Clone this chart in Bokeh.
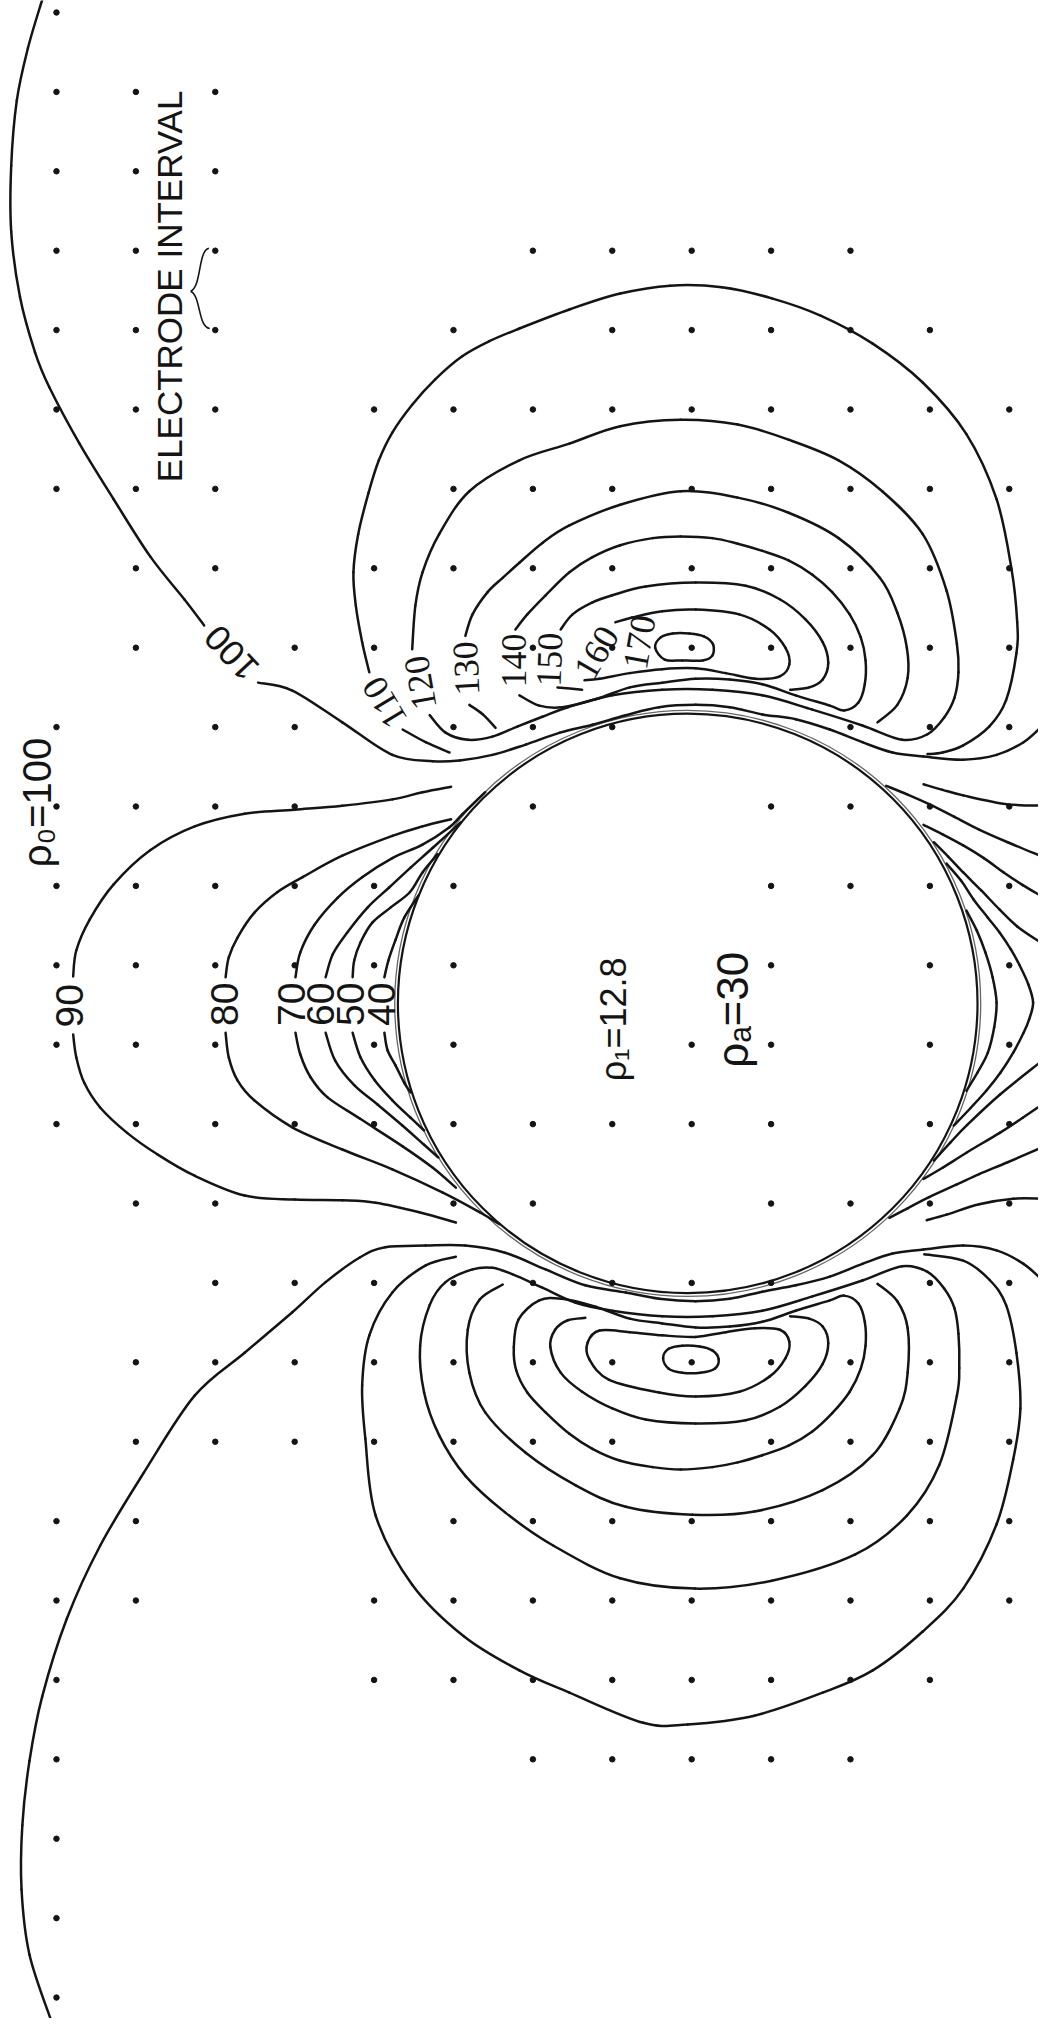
from bokeh.plotting import figure
from bokeh.models import Range1d, ColumnDataSource
from bokeh.core.properties import value
from bokeh.embed import file_html
from bokeh.resources import INLINE

# ---------------- data (units: electrode intervals) ----------------
# measurement points: for each row, the columns that carry a point
DOT_COLUMNS_BY_ROW = [
    [0], [0, 1, 2], [0, 1, 2],
    [0, 1, 2, 6, 7, 8, 9, 10],
    [0, 1, 2, 5, 7, 8, 9, 10, 11],
    [0, 1, 2, 4, 5, 6, 7, 8, 9, 10, 11, 12],
    [0, 1, 2, 5, 6, 7, 8, 9, 10, 11, 12],
    [1, 2, 4, 5, 6, 7, 8, 9, 10, 11, 12],
    [1, 3, 4, 6, 7, 8, 9, 10, 11, 12],
    [0, 2, 3, 5, 6, 7, 10, 11, 12],
    [0, 1, 2, 3, 6, 9, 10, 11, 12],
    [0, 1, 2, 3, 4, 5, 9, 10, 11, 12],
    [0, 1, 2, 3, 4, 5, 9, 11, 12],
    [0, 1, 2, 4, 5, 8, 9, 11, 12],
    [0, 1, 2, 3, 4, 5, 6, 7, 8, 9, 11, 12],
    [1, 2, 5, 6, 9, 10, 11, 12],
    [2, 3, 4, 5, 6, 7, 8, 9, 11, 12],
    [1, 2, 3, 4, 5, 6, 7, 8, 9, 10, 11, 12],
    [1, 2, 3, 4, 5, 6, 7, 9, 10, 11, 12],
    [0, 1, 5, 6, 7, 8, 9, 10, 11, 12],
    [0, 1, 4, 5, 6, 7, 8, 9, 10, 11, 12],
    [0, 4, 5, 6, 7, 8, 9, 10, 11],
    [0, 6, 7, 8, 9, 10],
    [0], [0], [0],
]

SPHERE_CENTER = (7.95, 12.48)
SPHERE_RADIUS = 3.65

# contour strokes (x, y)
c100_upper_arc = [(-0.18, -0.16), (-0.36, 0.45), (-0.50, 1.11), (-0.57, 1.93), (-0.57, 2.76), (-0.46, 3.58),
                  (-0.27, 4.28), (-0.09, 4.72), (0.29, 5.43), (0.72, 6.13), (1.18, 6.85), (1.61, 7.39), (1.86, 7.72)]
c100_upper_neck = [(2.54, 8.44), (2.97, 8.54), (3.60, 8.94), (4.23, 9.35), (4.74, 9.43), (5.08, 9.42), (5.49, 9.35),
                   (5.91, 9.22), (6.34, 9.07), (6.75, 8.97), (7.17, 8.85), (7.59, 8.75), (8.05, 8.72), (8.48, 8.75),
                   (8.89, 8.84), (9.31, 8.90), (9.74, 9.03), (10.15, 9.19), (10.53, 9.32), (10.92, 9.37),
                   (11.42, 9.41), (11.84, 9.35), (12.18, 9.19), (12.42, 8.98)]
c110_upper_a = [(4.95, 9.32), (4.65, 9.19), (4.36, 9.03)]
c110_upper_b = [(3.94, 8.31), (3.85, 7.93), (3.77, 7.47), (3.74, 7.05), (3.80, 6.57), (3.93, 6.05), (4.06, 5.64),
                (4.23, 5.29), (4.48, 4.94), (4.77, 4.62), (5.11, 4.33), (5.45, 4.14), (5.83, 3.98), (6.46, 3.74),
                (7.10, 3.54), (7.73, 3.44), (8.38, 3.46), (9.01, 3.60), (9.63, 3.82), (10.28, 4.17), (10.91, 4.66),
                (11.46, 5.31), (11.84, 6.13), (12.03, 7.02), (12.10, 7.68), (12.09, 8.07), (11.96, 8.66),
                (11.75, 8.99), (11.42, 9.23), (11.16, 9.32), (10.97, 9.34)]
c120_upper = [(4.70, 8.85), (4.90, 9.07), (5.18, 9.16), (5.49, 9.12), (5.81, 8.99), (6.12, 8.87), (6.44, 8.75),
              (7.00, 8.60), (7.63, 8.53), (8.26, 8.53), (8.89, 8.60), (9.52, 8.78), (10.15, 8.98), (10.65, 9.16),
              (10.97, 9.09), (11.18, 8.88), (11.31, 8.63), (11.36, 8.31), (11.34, 7.95), (11.21, 7.28),
              (10.91, 6.57), (10.40, 6.03), (9.85, 5.64), (9.22, 5.38), (8.58, 5.19), (7.86, 5.13), (7.10, 5.21),
              (6.46, 5.43), (5.83, 5.64), (5.20, 6.03), (4.82, 6.57), (4.61, 7.05), (4.52, 7.47), (4.48, 8.02)]
c130_upper = [(5.15, 7.85), (5.24, 7.58), (5.43, 7.30), (5.62, 7.12), (5.83, 6.93), (6.12, 6.68), (6.46, 6.46),
              (7.10, 6.20), (7.86, 6.03), (8.58, 6.11), (9.22, 6.30), (9.85, 6.62), (10.37, 7.12), (10.59, 7.56),
              (10.71, 8.00), (10.72, 8.38), (10.59, 8.72), (10.34, 8.94)]
c130_upper_low = [(5.20, 8.72), (5.37, 8.84), (5.53, 9.01)]
c140_upper = [(5.78, 7.77), (5.93, 7.58), (6.16, 7.34), (6.46, 7.05), (6.75, 6.86), (7.10, 6.71), (7.51, 6.62),
              (7.86, 6.60), (8.26, 6.62), (8.58, 6.69), (8.89, 6.78), (9.22, 6.90), (9.52, 7.08), (9.77, 7.30),
              (9.99, 7.58), (10.13, 7.87), (10.19, 8.16), (10.18, 8.46), (10.10, 8.69), (9.92, 8.79), (9.74, 8.73),
              (9.31, 8.60), (8.89, 8.46), (8.48, 8.40), (8.05, 8.39), (7.63, 8.44), (7.22, 8.50), (6.79, 8.65),
              (6.37, 8.75), (6.08, 8.73), (5.83, 8.60)]
c150_upper = [(6.35, 7.77), (6.50, 7.58), (6.75, 7.43), (7.00, 7.34), (7.42, 7.23), (8.05, 7.18), (8.68, 7.22),
              (9.11, 7.39), (9.43, 7.64), (9.65, 7.93), (9.72, 8.19), (9.65, 8.40), (9.48, 8.50), (9.24, 8.53)]
c150_upper_low = [(6.31, 8.50), (6.62, 8.53)]
c160_upper = [(7.04, 7.68), (7.25, 7.62), (7.63, 7.54), (8.05, 7.52), (8.60, 7.58), (8.98, 7.77), (9.18, 8.00),
              (9.23, 8.21), (9.11, 8.36), (8.80, 8.39), (8.43, 8.32), (8.05, 8.26), (7.63, 8.27), (7.22, 8.32),
              (6.84, 8.39), (6.65, 8.41)]
c170_upper = [(7.54, 8.00), (7.61, 7.87), (7.76, 7.82), (7.97, 7.82), (8.16, 7.86), (8.27, 7.96), (8.26, 8.10),
              (8.14, 8.16), (7.88, 8.16), (7.66, 8.15), (7.54, 8.00)]

c90_upper = [(4.97, 9.75), (4.61, 9.82), (4.23, 9.91), (3.60, 9.99), (3.00, 10.04), (2.37, 10.09), (1.74, 10.25),
             (1.18, 10.55), (0.72, 10.98), (0.42, 11.42), (0.25, 11.81), (0.21, 12.14)]
c90_lower = [(0.21, 12.87), (0.25, 13.16), (0.35, 13.48), (0.55, 13.79), (0.89, 14.11), (1.27, 14.38),
             (1.74, 14.65), (2.37, 14.90), (3.00, 14.95), (3.60, 14.96), (4.02, 14.99), (4.57, 15.11), (5.03, 15.24)]
c80_upper = [(4.97, 10.16), (4.61, 10.25), (4.23, 10.37), (3.60, 10.62), (3.10, 10.89), (2.78, 11.08),
             (2.49, 11.34), (2.28, 11.65), (2.17, 11.90), (2.13, 12.15)]
c80_lower = [(2.13, 12.85), (2.17, 13.16), (2.28, 13.45), (2.49, 13.70), (2.97, 14.04), (3.60, 14.32),
             (4.23, 14.57), (4.86, 14.86), (5.33, 15.11), (5.58, 15.26)]
c70_upper = [(5.40, 9.82), (5.11, 10.10), (4.95, 10.26), (4.61, 10.48), (4.23, 10.65), (3.85, 10.89),
             (3.54, 11.15), (3.25, 11.49), (3.07, 11.84), (3.01, 12.15)]
c70_lower = [(3.01, 12.85), (3.07, 13.12), (3.20, 13.41), (3.41, 13.66), (3.82, 13.93), (4.36, 14.28),
             (4.74, 14.55), (5.03, 14.80)]
c60_upper = [(5.09, 10.20), (4.74, 10.52), (4.46, 10.77), (4.19, 11.02), (3.92, 11.27), (3.66, 11.59),
             (3.48, 11.86), (3.39, 12.15)]
c60_lower = [(3.39, 12.85), (3.51, 13.20), (3.75, 13.51), (4.04, 13.75), (4.36, 14.02), (4.63, 14.26), (4.81, 14.42)]
c50_upper = [(4.80, 10.60), (4.61, 10.83), (4.45, 11.08), (4.21, 11.27), (3.98, 11.46), (3.83, 11.71),
             (3.75, 11.94), (3.73, 12.15)]
c50_lower = [(3.73, 12.85), (3.83, 13.16), (4.01, 13.45), (4.23, 13.70), (4.46, 13.92), (4.63, 14.08)]
c40_upper = [(4.56, 11.12), (4.38, 11.40), (4.27, 11.68), (4.18, 11.94), (4.13, 12.15)]
c40_lower = [(4.13, 12.85), (4.17, 13.07), (4.27, 13.26), (4.38, 13.48), (4.46, 13.60)]

fan_upper_1 = [(10.92, 9.72), (11.16, 9.79), (11.42, 9.86), (11.96, 9.97), (12.42, 9.99)]
fan_upper_2 = [(10.45, 9.74), (10.72, 9.85), (10.99, 9.97), (11.31, 10.13), (11.62, 10.29), (11.98, 10.45), (12.39, 10.62)]
fan_upper_3 = [(10.92, 10.23), (11.16, 10.35), (11.42, 10.49), (11.68, 10.65), (11.93, 10.83), (12.17, 10.99), (12.39, 11.12)]
fan_upper_4 = [(11.05, 10.45), (11.23, 10.63), (11.42, 10.83), (11.65, 11.06), (11.88, 11.30), (12.10, 11.51), (12.39, 11.71)]
bend_outer = [(11.21, 10.72), (11.39, 10.93), (11.55, 11.17), (11.73, 11.40), (11.88, 11.59), (12.02, 11.80),
              (12.13, 12.00), (12.24, 12.24), (12.30, 12.47), (12.25, 12.68), (12.18, 12.85), (12.05, 13.10),
              (11.89, 13.35), (11.71, 13.58), (11.51, 13.80), (11.30, 14.02)]
bend_inner = [(11.46, 11.31), (11.59, 11.56), (11.70, 11.84), (11.79, 12.15), (11.84, 12.47), (11.81, 12.78),
              (11.73, 13.10), (11.60, 13.35), (11.46, 13.58)]
fan_lower_4 = [(11.05, 14.46), (11.26, 14.23), (11.47, 14.01), (11.88, 13.63), (12.39, 13.22)]
fan_lower_3 = [(10.92, 14.69), (11.16, 14.55), (11.46, 14.36), (11.88, 14.11), (12.17, 13.92), (12.39, 13.77)]
fan_lower_2 = [(10.49, 15.18), (10.72, 15.06), (10.99, 14.92), (11.34, 14.76), (11.62, 14.63), (11.98, 14.48), (12.42, 14.29)]
fan_lower_1 = [(10.96, 15.21), (11.21, 15.14), (11.62, 15.01), (12.05, 14.94), (12.42, 14.94)]

c170_lower = [(7.64, 16.95), (7.71, 16.83), (7.88, 16.79), (8.10, 16.80), (8.26, 16.85), (8.34, 16.96), (8.29, 17.08),
              (8.11, 17.13), (7.88, 17.13), (7.71, 17.08), (7.64, 16.95)]
c160_lower = [(6.69, 16.75), (6.84, 16.60), (7.22, 16.62), (7.63, 16.66), (8.05, 16.68), (8.43, 16.62), (8.80, 16.57),
              (9.11, 16.59), (9.23, 16.74), (9.18, 16.95), (8.98, 17.18), (8.60, 17.37), (8.05, 17.43), (7.59, 17.38),
              (6.96, 17.22), (6.71, 16.96), (6.69, 16.75)]
c150_lower = [(9.24, 16.42), (9.48, 16.45), (9.65, 16.55), (9.72, 16.76), (9.65, 17.02), (9.43, 17.30), (9.11, 17.56),
              (8.68, 17.73), (8.05, 17.77), (7.42, 17.72), (7.00, 17.58), (6.62, 17.37), (6.35, 17.13), (6.22, 16.81),
              (6.28, 16.59), (6.44, 16.47), (6.66, 16.44)]
c140_lower = [(6.08, 16.22), (6.37, 16.20), (6.79, 16.30), (7.22, 16.45), (7.63, 16.51), (8.05, 16.56), (8.48, 16.55),
              (8.89, 16.49), (9.31, 16.35), (9.74, 16.22), (9.92, 16.16), (10.10, 16.26), (10.18, 16.49),
              (10.19, 16.79), (10.13, 17.08), (9.99, 17.37), (9.77, 17.64), (9.52, 17.87), (9.22, 18.05),
              (8.89, 18.17), (8.58, 18.26), (8.26, 18.32), (7.86, 18.35), (7.51, 18.32), (7.10, 18.24),
              (6.75, 18.09), (6.46, 17.90), (6.16, 17.63), (5.93, 17.38), (5.79, 17.10), (5.76, 16.81),
              (5.82, 16.46), (6.08, 16.22)]
c130_lower = [(5.62, 16.02), (5.33, 16.21), (5.18, 16.59), (5.20, 17.13), (5.40, 17.63), (5.91, 18.14), (6.54, 18.55),
              (7.17, 18.82), (8.01, 18.92), (8.79, 18.88), (9.65, 18.61), (10.28, 18.17), (10.62, 17.58),
              (10.72, 17.13), (10.72, 16.57), (10.59, 16.23), (10.34, 16.01)]
c120_lower = [(5.24, 15.83), (5.49, 15.81), (5.74, 15.89), (6.12, 16.06), (6.54, 16.25), (7.00, 16.35), (7.63, 16.42),
              (8.26, 16.42), (8.89, 16.35), (9.52, 16.17), (10.15, 15.97), (10.65, 15.79), (10.97, 15.86),
              (11.18, 16.07), (11.31, 16.32), (11.36, 16.64), (11.37, 17.07), (11.34, 17.42), (11.12, 18.29),
              (10.71, 18.93), (10.06, 19.42), (9.01, 19.75), (8.04, 19.85), (7.10, 19.72), (6.26, 19.31),
              (5.65, 18.89), (5.15, 18.43), (4.82, 17.92), (4.63, 17.38), (4.58, 16.79), (4.70, 16.28),
              (4.90, 15.99), (5.24, 15.83)]
c110_lower = [(5.03, 15.67), (4.65, 15.78), (4.23, 16.12), (3.94, 16.66), (3.85, 17.29), (3.89, 17.96), (4.02, 18.93),
              (4.48, 19.80), (5.13, 20.45), (5.83, 20.88), (6.46, 21.16), (7.39, 21.54), (7.95, 21.56), (8.79, 21.45),
              (9.65, 21.16), (10.28, 20.88), (10.91, 20.39), (11.42, 19.85), (11.84, 19.04), (12.05, 18.22),
              (12.14, 17.58), (12.09, 16.88), (11.96, 16.28), (11.75, 15.96), (11.42, 15.72), (10.93, 15.64)]
c100_lower = [(-0.06, 25.31), (-0.34, 24.46), (-0.44, 23.64), (-0.43, 22.83), (-0.34, 22.02), (-0.18, 21.21),
              (0.13, 20.23), (0.55, 19.31), (1.10, 18.39), (1.74, 17.42), (2.37, 16.88), (2.97, 16.37), (3.39, 15.99),
              (3.82, 15.68), (4.14, 15.55), (4.65, 15.53), (5.15, 15.53), (5.65, 15.62), (6.16, 15.83), (6.66, 16.03),
              (7.17, 16.12), (7.59, 16.20), (8.05, 16.23), (8.48, 16.20), (8.89, 16.11), (9.31, 16.03), (9.74, 15.92),
              (10.15, 15.76), (10.53, 15.63), (10.92, 15.58), (11.42, 15.53), (11.84, 15.59), (12.18, 15.76),
              (12.42, 15.97)]

STROKES = [c100_upper_arc, c100_upper_neck, c110_upper_a, c110_upper_b, c120_upper, c130_upper, c130_upper_low,
           c140_upper, c150_upper, c150_upper_low, c160_upper, c170_upper,
           c90_upper, c90_lower, c80_upper, c80_lower, c70_upper, c70_lower, c60_upper, c60_lower,
           c50_upper, c50_lower, c40_upper, c40_lower,
           fan_upper_1, fan_upper_2, fan_upper_3, fan_upper_4, bend_outer, bend_inner,
           fan_lower_1, fan_lower_2, fan_lower_3, fan_lower_4,
           c170_lower, c160_lower, c150_lower, c140_lower, c130_lower, c120_lower, c110_lower, c100_lower]

# contour labels
HIGH_LABELS = ["110", "120", "130", "140", "150", "160", "170"]
HIGH_LABEL_X = [4.13, 4.58, 5.16, 5.76, 6.21, 6.80, 7.34]
HIGH_LABEL_Y = [8.69, 8.44, 8.26, 8.16, 8.15, 8.06, 7.93]
HIGH_LABEL_ANGLE = [121, 100, 93, 90, 88, 60, 80]

LOW_LABELS = ["90", "80", "70", "60", "50", "40"]
LOW_LABEL_X = [0.16, 2.12, 2.96, 3.33, 3.70, 4.09]
LOW_LABEL_Y = [12.51, 12.49, 12.49, 12.49, 12.49, 12.49]

BACKGROUND_LABEL = ["100"]
BACKGROUND_LABEL_X = [2.20]
BACKGROUND_LABEL_Y = [8.07]
BACKGROUND_LABEL_ANGLE = [133]

NOTES = ["ELECTRODE INTERVAL", "ρ₀=100", "ρ₁=12.8", "ρₐ=30"]
NOTE_X = [1.42, -0.24, 7.02, 8.51]
NOTE_Y = [3.45, 9.95, 12.68, 12.56]
NOTE_SIZE = ["35px", "40px", "36px", "44px"]

BRACE_COLUMN = 2
BRACE_ROWS = (3, 4)


# ---------------- smooth rendering of each stroke (curve through the read points) ----------------
def to_bezier(strokes):
    out = dict(x0=[], y0=[], x1=[], y1=[], cx0=[], cy0=[], cx1=[], cy1=[])
    for s in strokes:
        closed = s[0] == s[-1]
        pts = s[:-1] if closed else s
        n = len(pts)
        segs = n if closed else n - 1
        for i in range(segs):
            p1, p2 = pts[i], pts[(i + 1) % n]
            if closed:
                p0, p3 = pts[(i - 1) % n], pts[(i + 2) % n]
            else:
                p0 = pts[i - 1] if i > 0 else p1
                p3 = pts[i + 2] if i + 2 < n else p2
            out["x0"].append(p1[0]); out["y0"].append(p1[1])
            out["x1"].append(p2[0]); out["y1"].append(p2[1])
            out["cx0"].append(p1[0] + (p2[0] - p0[0]) / 6.0)
            out["cy0"].append(p1[1] + (p2[1] - p0[1]) / 6.0)
            out["cx1"].append(p2[0] - (p3[0] - p1[0]) / 6.0)
            out["cy1"].append(p2[1] - (p3[1] - p1[1]) / 6.0)
    return out


# ---------------- figure ----------------
p = figure(width=1038, height=2018, x_range=Range1d(-0.705, 12.368), y_range=Range1d(25.264, -0.151),
           output_backend="svg", toolbar_location=None, min_border=0,
           x_axis_location=None, y_axis_location=None)
p.grid.visible = False
p.outline_line_color = None
p.background_fill_color = "white"
p.border_fill_color = "white"

INK = "#141414"

# sphere outline (double line)
p.ellipse(x=[SPHERE_CENTER[0]], y=[SPHERE_CENTER[1]], width=[2 * SPHERE_RADIUS + 0.08],
          height=[2 * SPHERE_RADIUS + 0.08], fill_color=None, line_color="#666666", line_width=1.3)
p.ellipse(x=[SPHERE_CENTER[0]], y=[SPHERE_CENTER[1]], width=[2 * SPHERE_RADIUS],
          height=[2 * SPHERE_RADIUS], fill_color=None, line_color=INK, line_width=2.2)

# contour lines
src = ColumnDataSource(to_bezier(STROKES))
p.bezier(x0="x0", y0="y0", x1="x1", y1="y1", cx0="cx0", cy0="cy0", cx1="cx1", cy1="cy1", source=src,
         line_color=INK, line_width=2.5, line_cap="round")

# measurement points
dot_x, dot_y = [], []
for row, cols in enumerate(DOT_COLUMNS_BY_ROW):
    for c in cols:
        dot_x.append(c)
        dot_y.append(row)
p.scatter(x=dot_x, y=dot_y, size=5.5, color=INK)

# brace marking one electrode interval
bx = BRACE_COLUMN
r0, r1 = BRACE_ROWS
rm = (r0 + r1) / 2
p.bezier(x0=[bx - 0.08, bx - 0.31], y0=[r0 - 0.03, rm + 0.01],
         x1=[bx - 0.31, bx - 0.07], y1=[rm + 0.01, r1 - 0.02],
         cx0=[bx - 0.22, bx - 0.18], cy0=[r0 + 0.0, rm + 0.07],
         cx1=[bx - 0.17, bx - 0.22], cy1=[rm - 0.05, r1 - 0.04],
         line_color=INK, line_width=1.6)

# labels
p.text(x=HIGH_LABEL_X, y=HIGH_LABEL_Y, text=HIGH_LABELS, angle=HIGH_LABEL_ANGLE, angle_units="deg",
       text_font=value("Liberation Sans Narrow"), text_font_size="36px", text_align="center",
       text_baseline="middle", text_color=INK)
p.text(x=LOW_LABEL_X, y=LOW_LABEL_Y, text=LOW_LABELS, angle=90, angle_units="deg",
       text_font=value("Liberation Sans"), text_font_size="39px", text_align="center",
       text_baseline="middle", text_color=INK)
p.text(x=BACKGROUND_LABEL_X, y=BACKGROUND_LABEL_Y, text=BACKGROUND_LABEL, angle=BACKGROUND_LABEL_ANGLE,
       angle_units="deg", text_font=value("Liberation Sans"), text_font_size="36px", text_align="center",
       text_baseline="middle", text_color=INK)
for t, x, y, s in zip(NOTES, NOTE_X, NOTE_Y, NOTE_SIZE):
    p.text(x=[x], y=[y], text=[t], angle=90, angle_units="deg", text_font=value("Liberation Sans"),
           text_font_size=s, text_align="center", text_baseline="middle", text_color=INK)

open("out.html", "w").write(file_html(p, INLINE))
